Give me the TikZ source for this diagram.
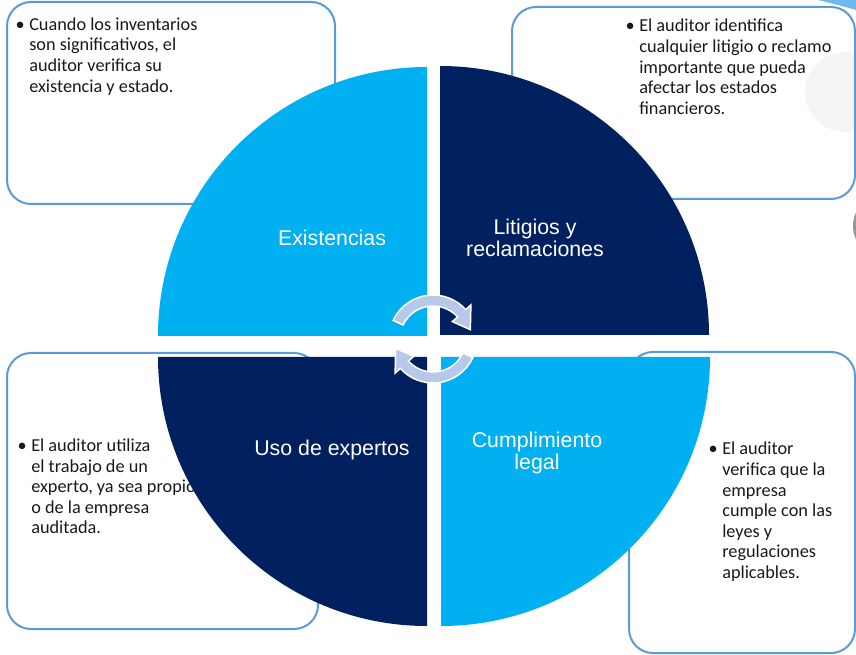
\documentclass[tikz,border=0pt]{standalone}
\usepackage{fontspec}
\setmainfont{Carlito}
\newfontfamily\labelfont{Liberation Sans}
\definecolor{skyq}{RGB}{0,176,240}
\definecolor{navyq}{RGB}{0,32,96}
\definecolor{cyclearrow}{RGB}{183,201,232}
\definecolor{boxline}{RGB}{91,155,213}
\definecolor{bggray}{RGB}{245,245,245}
\definecolor{bgblue}{RGB}{110,185,235}
\definecolor{bgdark}{RGB}{150,150,150}
\definecolor{notetext}{RGB}{25,25,25}
\begin{document}
\begin{tikzpicture}[x=0.75pt,y=-0.75pt,
  infobox/.style={draw=boxline, line width=1.5pt, rounded corners=18pt},
  note/.style={anchor=north west, inner sep=0pt, align=left, text=notetext,
    font=\fontsize{13.7pt}{15.45pt}\selectfont},
  qlabel/.style={text=white, align=center, inner sep=0pt,
    font=\labelfont\fontsize{16pt}{16.5pt}\selectfont},
  cyclearrowstyle/.style={fill=cyclearrow, draw=white, line width=1.1pt, line join=miter}]
\useasboundingbox (0,0) rectangle (856,655);
\clip (0,0) rectangle (856,655);

% slide background ornaments
\fill[bggray] (845,92) circle[radius=40];
\fill[bgblue] (818,0) .. controls (834,4) and (846,7) .. (856,10) -- (856,0) -- cycle;
\fill[bgdark] (885,226) circle[radius=32];

% description boxes
\draw[infobox] (7,2) rectangle (335,204);
\draw[infobox] (512,7) rectangle (855,199);
\draw[infobox] (7,353) rectangle (318,629);
\draw[infobox] (629,352) rectangle (855,653);

\newcommand{\bul}{\llap{\textbullet\hspace{3.4pt}}}
\node[note] (n1) at (29,15.3) {\rule{0pt}{11pt}\bul Cuando los inventarios\\son significativos, el\\auditor verifica su\\existencia y estado.};
\node[note] (n2) at (639,17) {\rule{0pt}{11pt}\bul El auditor identifica\\cualquier litigio o reclamo\\importante que pueda\\afectar los estados\\financieros.};
\node[note] (n3) at (31,436.5) {\rule{0pt}{11pt}\bul El auditor utiliza\\el trabajo de un\\experto, ya sea propio\\o de la empresa\\auditada.};
\node[note] (n4) at (722,440) {\rule{0pt}{11pt}\bul El auditor\\verifica que la\\empresa\\cumple con las\\leyes y\\regulaciones\\aplicables.};

% four quarter discs
\fill[skyq]  (427,336) -- (158,336) arc[start angle=180,end angle=270,radius=269] -- cycle;
\fill[navyq] (440,335) -- (440,66)  arc[start angle=270,end angle=360,radius=269] -- cycle;
\fill[skyq]  (441,357) -- (710,357) arc[start angle=0,end angle=90,radius=269] -- cycle;
\fill[navyq] (427,357) -- (427,626) arc[start angle=90,end angle=180,radius=269] -- cycle;

\node[qlabel] (q1) at (332,238) {Existencias};
\node[qlabel] (q2) at (535,238) {Litigios y\\reclamaciones};
\node[qlabel] (q3) at (332,450) {Uso de expertos};
\node[qlabel] (q4) at (537,453) {Cumplimiento\\legal};

% circular arrows in the middle
\begin{scope}[shift={(433,339)}]
\filldraw[cyclearrowstyle] (205:33) -- (205:44) arc[start angle=205,end angle=318,radius=44]
  -- (318:51) -- (346:38.5) -- (318:26) -- (318:33) arc[start angle=318,end angle=205,radius=33] -- cycle;
\filldraw[cyclearrowstyle] (25:33) -- (25:44) arc[start angle=25,end angle=138,radius=44]
  -- (138:51) -- (166:38.5) -- (138:26) -- (138:33) arc[start angle=138,end angle=25,radius=33] -- cycle;
\end{scope}
\end{tikzpicture}
\end{document}
